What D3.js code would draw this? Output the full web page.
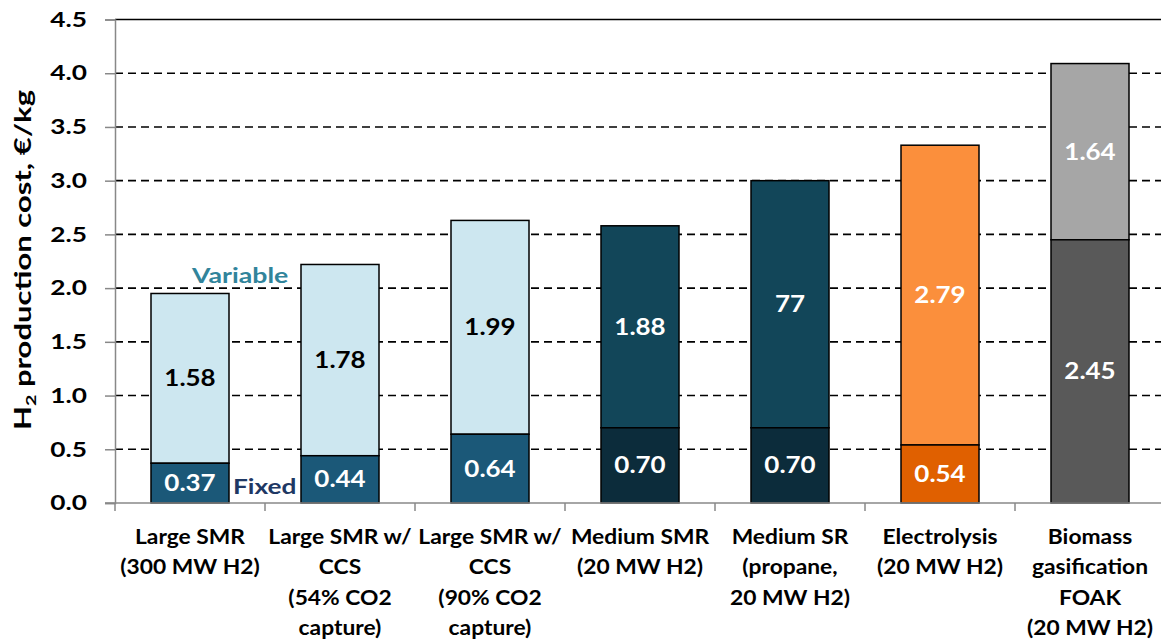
<!DOCTYPE html>
<html lang="en">
<head>
<meta charset="UTF-8">
<title>H2 production cost</title>
<script src="https://cdn.jsdelivr.net/npm/d3@7"></script>
<style>
  body { margin: 0; background: #fff; }
  svg { display: block; }
  text { font-family: Lato, "Open Sans", sans-serif; font-weight: bold; }
</style>
</head>
<body>
<div id="chart"></div>
<script>
// data
const categories = [
  ['Large SMR', '(300 MW H2)'],
  ['Large SMR w/', 'CCS', '(54% CO2', 'capture)'],
  ['Large SMR w/', 'CCS', '(90% CO2', 'capture)'],
  ['Medium SMR', '(20 MW H2)'],
  ['Medium SR', '(propane,', '20 MW H2)'],
  ['Electrolysis', '(20 MW H2)'],
  ['Biomass', 'gasification', 'FOAK', '(20 MW H2)']
]
const fixedCost = [0.37, 0.44, 0.64, 0.70, 0.70, 0.54, 2.45]
const variableCost = [1.58, 1.78, 1.99, 1.88, 2.30, 2.79, 1.64]
const fixedLabels = ['0.37', '0.44', '0.64', '0.70', '0.70', '0.54', '2.45']
const variableLabels = ['1.58', '1.78', '1.99', '1.88', '77', '2.79', '1.64']
const yTicks = [0, 0.5, 1, 1.5, 2, 2.5, 3, 3.5, 4, 4.5]

// colours
const fixedColor = ['#1b5878', '#1b5878', '#1b5878', '#0c2c3b', '#0c2c3b', '#e06000', '#595959']
const varColor = ['#cde7f0', '#cde7f0', '#cde7f0', '#124659', '#124659', '#fb8f3c', '#a6a6a6']
const varText = ['#000', '#000', '#000', '#fff', '#fff', '#fff', '#fff']

const W = 1161, H = 644
const svg = d3.select('#chart').append('svg').attr('width', W).attr('height', H)

// the original text is wide, so labels get a small horizontal stretch
function wideText(parent, x, y, sx, extra) {
  return parent.append('g')
    .attr('transform', `translate(${x},${y})` + (extra || '') + ` scale(${sx},1)`)
    .append('text')
}

const left = 115, right = 1165
const y = d3.scaleLinear().domain([0, 4.5]).range([503, 19.5])
const xb = d3.scaleBand().domain(d3.range(categories.length)).range([left, right])
  .paddingInner(0.48).paddingOuter(0.24)
const xs = d3.scaleBand().domain(d3.range(categories.length)).range([left, right])

// grid lines
svg.append('g').selectAll('line')
  .data(yTicks.filter(t => t > 0 && t < 4.5))
  .enter().append('line')
  .attr('x1', left).attr('x2', W)
  .attr('y1', d => y(d)).attr('y2', d => y(d))
  .attr('stroke', '#000').attr('stroke-width', 1.6)
  .attr('stroke-dasharray', '8,5')

// top border
svg.append('line').attr('x1', left).attr('x2', W)
  .attr('y1', y(4.5)).attr('y2', y(4.5))
  .attr('stroke', '#000').attr('stroke-width', 1.5)

// y axis
const tickSx = 1.25
const yAxis = svg.append('g').attr('transform', `translate(${left},0)`)
  .call(d3.axisLeft(y).tickValues(yTicks).tickFormat(d3.format('.1f')).tickSize(10))
yAxis.select('.domain').attr('stroke', '#888').attr('stroke-width', 1.5)
yAxis.selectAll('.tick line').attr('stroke', '#888').attr('stroke-width', 1.5)
yAxis.selectAll('.tick text')
  .attr('x', -28 / tickSx).attr('transform', `scale(${tickSx},1)`)
  .attr('font-size', 21).attr('fill', '#000')
  .style('font-family', 'Lato, sans-serif').style('font-weight', 'bold')

// bars
const g = svg.append('g')
const valSx = 1.18
categories.forEach((c, i) => {
  const f = fixedCost[i], v = variableCost[i]
  const cx = xb(i) + xb.bandwidth() / 2
  g.append('rect')
    .attr('x', xb(i)).attr('width', xb.bandwidth())
    .attr('y', y(f + v)).attr('height', y(f) - y(f + v))
    .attr('fill', varColor[i]).attr('stroke', '#000').attr('stroke-width', 1.5)
  g.append('rect')
    .attr('x', xb(i)).attr('width', xb.bandwidth())
    .attr('y', y(f)).attr('height', y(0) - y(f))
    .attr('fill', fixedColor[i]).attr('stroke', '#000').attr('stroke-width', 1.5)
  wideText(g, cx, y(f + v / 2), valSx)
    .attr('dy', '0.36em').attr('text-anchor', 'middle')
    .attr('font-size', 22).attr('fill', varText[i])
    .text(variableLabels[i])
  wideText(g, cx, y(f / 2), valSx)
    .attr('dy', '0.36em').attr('text-anchor', 'middle')
    .attr('font-size', 22).attr('fill', '#fff')
    .text(fixedLabels[i])
})

// x axis
svg.append('line').attr('x1', 105).attr('x2', W)
  .attr('y1', y(0)).attr('y2', y(0))
  .attr('stroke', '#888').attr('stroke-width', 1.5)
svg.append('g').selectAll('line')
  .data(d3.range(categories.length + 1))
  .enter().append('line')
  .attr('x1', d => left + d * xs.step()).attr('x2', d => left + d * xs.step())
  .attr('y1', y(0)).attr('y2', y(0) + 8)
  .attr('stroke', '#888').attr('stroke-width', 1.5)

// category labels
categories.forEach((c, i) => {
  const t = wideText(svg, xb(i) + xb.bandwidth() / 2, 544, 1.14)
    .attr('text-anchor', 'middle').attr('font-size', 20).attr('fill', '#000')
  c.forEach((line, k) => {
    t.append('tspan').attr('x', 0).attr('y', k * 30.5).text(line)
  })
})

// series notes
wideText(svg, 192, 283, 1.27).attr('font-size', 21).attr('fill', '#31849b').text('Variable')
wideText(svg, 233, 494, 1.25).attr('font-size', 21).attr('fill', '#1f3864').text('Fixed')

// y title
const yt = wideText(svg, 31, 260, 1.41, ' rotate(-90)')
  .attr('text-anchor', 'middle').attr('font-size', 22).attr('fill', '#000')
yt.append('tspan').text('H')
yt.append('tspan').attr('font-size', 14).attr('dy', 5).text('2')
yt.append('tspan').attr('dy', -5).text(' production cost, €/kg')
</script>
</body>
</html>
